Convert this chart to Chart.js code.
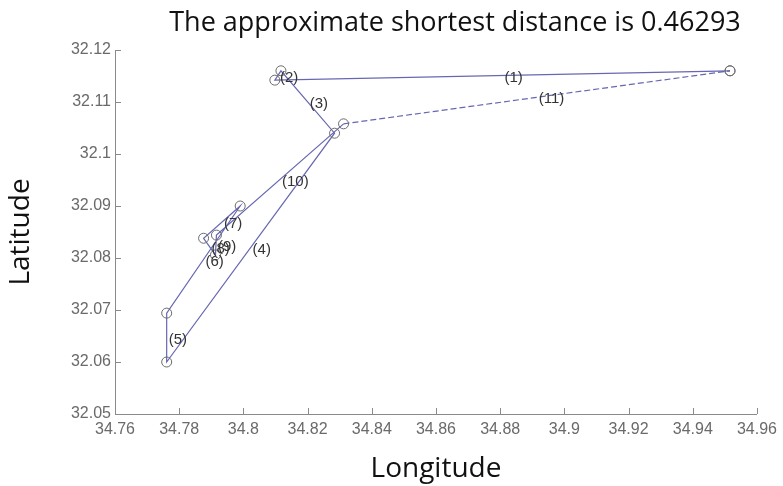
<!DOCTYPE html>
<html>
<head>
<meta charset="utf-8">
<script src="https://cdn.jsdelivr.net/npm/chart.js@4/dist/chart.umd.min.js"></script>
<style>
  html, body { margin: 0; padding: 0; background: #fff; }
</style>
</head>
<body>
<canvas id="myChart" width="783" height="486"></canvas>
<script>
// tour stops, in visiting order (the tour closes back on the first one)
const lon = [34.9516, 34.8098, 34.8117, 34.8284, 34.7761, 34.7761, 34.7990, 34.7876, 34.7913, 34.7916, 34.8312]
const lat = [32.1160, 32.1142, 32.1160, 32.1040, 32.0600, 32.0694, 32.0900, 32.0838, 32.0806, 32.0844, 32.1058]
const segLabels = ['(1)', '(2)', '(3)', '(4)', '(5)', '(6)', '(7)', '(8)', '(9)', '(10)', '(11)']

const xTicks = [34.76, 34.78, 34.8, 34.82, 34.84, 34.86, 34.88, 34.9, 34.92, 34.94, 34.96]
const yTicks = [32.05, 32.06, 32.07, 32.08, 32.09, 32.1, 32.11, 32.12]

const titleText = 'The approximate shortest distance is 0.46293'

let tour = lon.map((x, i) => ({ x: x, y: lat[i] }))
tour.push({ x: lon[0], y: lat[0] })

const fmt = v => String(Number(v.toFixed(2)))
const tickFont = { family: '"Liberation Sans", Arial, sans-serif', size: 16 }
const bigFont = { family: '"Open Sans", sans-serif', size: 28 }

// title sits a bit right of the plot centre in the original
const titlePlugin = {
  id: 'bigTitle',
  afterDraw(chart) {
    const ctx = chart.ctx
    ctx.save()
    ctx.font = '27px "Open Sans", sans-serif'
    ctx.fillStyle = '#111'
    ctx.textAlign = 'center'
    ctx.textBaseline = 'middle'
    ctx.fillText(titleText, 455, 23)
    ctx.restore()
  }
}

// "(n)" written at the middle of each leg
const segLabelPlugin = {
  id: 'segLabels',
  afterDatasetsDraw(chart) {
    const { ctx, scales: { x, y } } = chart
    ctx.save()
    ctx.font = '15px "Liberation Sans", Arial, sans-serif'
    ctx.fillStyle = '#333'
    ctx.textBaseline = 'middle'
    ctx.textAlign = 'left'
    for (let i = 0; i < lon.length; i++) {
      const j = (i + 1) % lon.length
      const mx = x.getPixelForValue((lon[i] + lon[j]) / 2)
      const my = y.getPixelForValue((lat[i] + lat[j]) / 2)
      ctx.fillText(segLabels[i], mx + 2, my + 2)
    }
    ctx.restore()
  }
}

// tick marks pointing into the plot, matlab style
const innerTicks = {
  id: 'innerTicks',
  afterDraw(chart) {
    const { ctx, chartArea, scales: { x, y } } = chart
    ctx.save()
    ctx.strokeStyle = '#8a8a8a'
    ctx.lineWidth = 1
    ctx.beginPath()
    x.ticks.forEach((t, i) => {
      const px = Math.round(x.getPixelForTick(i)) + 0.5
      ctx.moveTo(px, chartArea.bottom)
      ctx.lineTo(px, chartArea.bottom - 6)
    })
    y.ticks.forEach((t, i) => {
      const py = Math.round(y.getPixelForTick(i)) + 0.5
      ctx.moveTo(chartArea.left, py)
      ctx.lineTo(chartArea.left + 6, py)
    })
    ctx.stroke()
    ctx.restore()
  }
}

const config = {
  type: 'scatter',
  data: {
    datasets: [{
      data: tour,
      showLine: true,
      borderColor: 'rgba(85, 85, 170, 0.9)',
      borderWidth: 1.2,
      pointRadius: 5,
      pointHoverRadius: 5,
      pointBorderColor: '#6b6b6b',
      pointBackgroundColor: 'rgba(0,0,0,0)',
      pointBorderWidth: 1,
      segment: {
        borderDash: ctx => ctx.p0DataIndex === lon.length - 1 ? [6, 3] : undefined
      }
    }]
  },
  options: {
    responsive: false,
    devicePixelRatio: 1,
    animation: false,
    layout: { padding: { left: 0, right: 22, top: 50, bottom: 0 } },
    plugins: {
      legend: { display: false },
      tooltip: { enabled: false },
      title: { display: false }
    },
    scales: {
      x: {
        type: 'linear',
        min: 34.76,
        max: 34.96,
        afterBuildTicks: s => { s.ticks = xTicks.map(v => ({ value: v })) },
        afterFit: s => { s.height = 72 },
        ticks: { callback: v => fmt(v), color: '#6a6a6a', font: tickFont, padding: 6, maxRotation: 0, autoSkip: false },
        grid: { drawOnChartArea: false, drawTicks: false },
        border: { display: true, color: '#8a8a8a', width: 1 },
        title: { display: true, text: 'Longitude', color: '#111', font: bigFont, padding: { top: 0, bottom: 0 } }
      },
      y: {
        type: 'linear',
        min: 32.05,
        max: 32.12,
        afterBuildTicks: s => { s.ticks = yTicks.map(v => ({ value: v })) },
        afterFit: s => { s.width = 115 },
        ticks: { callback: v => fmt(v), color: '#6a6a6a', font: tickFont, padding: 4, autoSkip: false },
        grid: { drawOnChartArea: false, drawTicks: false },
        border: { display: true, color: '#8a8a8a', width: 1 },
        title: { display: true, text: 'Latitude', color: '#111', font: bigFont, padding: { top: 4, bottom: 0 } }
      }
    }
  },
  plugins: [segLabelPlugin, innerTicks, titlePlugin]
}

const myChart = new Chart(document.getElementById('myChart'), config)
</script>
</body>
</html>
